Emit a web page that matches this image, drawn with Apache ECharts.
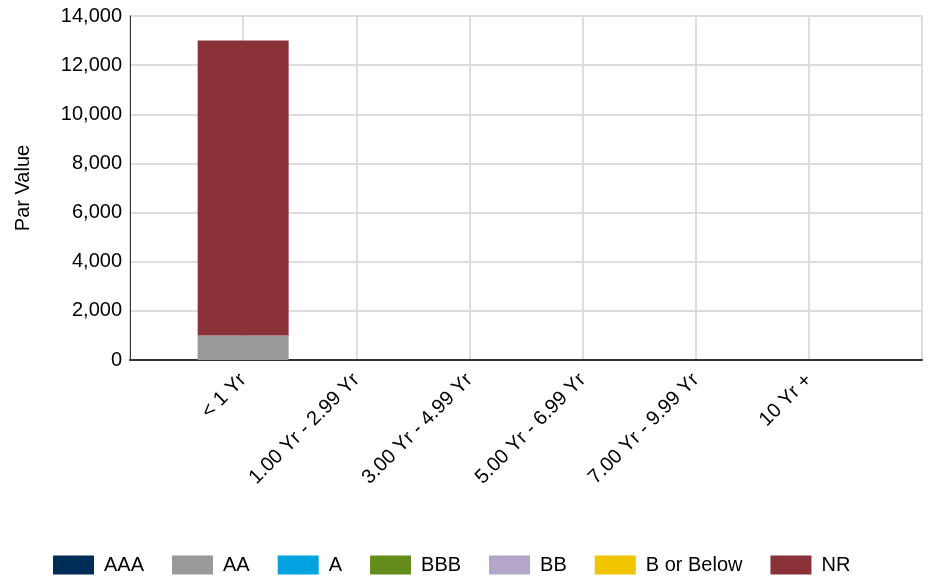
<!DOCTYPE html>
<html>
<head>
<meta charset="utf-8">
<script src="https://cdn.jsdelivr.net/npm/echarts@6/dist/echarts.min.js"></script>
<style>
  html, body { margin: 0; padding: 0; background: #fff; }
  #chart { width: 932px; height: 576px; }
</style>
</head>
<body>
<div id="chart"></div>
<script>
// Maturity buckets and par value by credit rating
const categories = ['< 1 Yr', '1.00 Yr - 2.99 Yr', '3.00 Yr - 4.99 Yr', '5.00 Yr - 6.99 Yr', '7.00 Yr - 9.99 Yr', '10 Yr +'];
const ratings = ['AAA', 'AA', 'A', 'BBB', 'BB', 'B or Below', 'NR'];
const ratingColors = ['#002D57', '#999999', '#00A3E0', '#658D1B', '#B3A6C9', '#F1C400', '#8B3239'];
const valuesAAA = [0, 0, 0, 0, 0, 0];
const valuesAA = [1000, 0, 0, 0, 0, 0];
const valuesA = [0, 0, 0, 0, 0, 0];
const valuesBBB = [0, 0, 0, 0, 0, 0];
const valuesBB = [0, 0, 0, 0, 0, 0];
const valuesBBelow = [0, 0, 0, 0, 0, 0];
const valuesNR = [12000, 0, 0, 0, 0, 0];
const yTicks = { min: 0, max: 14000, interval: 2000 };

const seriesValues = [valuesAAA, valuesAA, valuesA, valuesBBB, valuesBB, valuesBBelow, valuesNR];

// The axis has a blank slot at each end so the buckets sit on grid lines
const axisCategories = [''].concat(categories, ['']);
const pad = arr => [null].concat(arr.map(v => (v === 0 ? null : v)), [null]);

const font = 'Liberation Sans, Arial, sans-serif';
const chart = echarts.init(document.getElementById('chart'), null, { renderer: 'canvas' });

chart.setOption({
  animation: false,
  color: ratingColors,
  grid: {
    left: 130, right: 10, top: 16, bottom: 216,
    show: true, borderColor: '#666', borderWidth: 1, backgroundColor: 'transparent'
  },
  legend: {
    bottom: 1,
    left: 53,
    padding: 0,
    itemWidth: 41,
    itemHeight: 19,
    itemGap: 28,
    icon: 'rect',
    textStyle: { fontFamily: font, fontSize: 20, color: '#000', padding: [0, 0, 0, 5] },
    data: ratings
  },
  xAxis: {
    type: 'category',
    data: axisCategories,
    boundaryGap: false,
    axisLine: { lineStyle: { color: '#333', width: 2 } },
    axisTick: { show: false },
    axisLabel: {
      rotate: 45,
      interval: 0,
      margin: 17,
      fontFamily: font,
      fontSize: 20,
      color: '#000'
    },
    splitLine: { show: true, lineStyle: { color: '#dddddd', width: 2 } }
  },
  yAxis: {
    type: 'value',
    min: yTicks.min,
    max: yTicks.max,
    interval: yTicks.interval,
    name: 'Par Value',
    nameLocation: 'middle',
    nameGap: 97,
    nameRotate: 90,
    nameTextStyle: { fontFamily: font, fontSize: 20, color: '#000' },
    axisLine: { show: true, lineStyle: { color: '#333', width: 1 } },
    axisTick: { show: false },
    axisLabel: {
      fontFamily: font,
      fontSize: 20,
      color: '#000',
      margin: 8,
      formatter: v => v.toLocaleString('en-US')
    },
    splitLine: { show: true, lineStyle: { color: '#dddddd', width: 2 } }
  },
  series: ratings.map((name, i) => ({
    name: name,
    type: 'bar',
    stack: 'par',
    barWidth: 91,
    data: pad(seriesValues[i]),
    itemStyle: { color: ratingColors[i] }
  }))
});
</script>
</body>
</html>
